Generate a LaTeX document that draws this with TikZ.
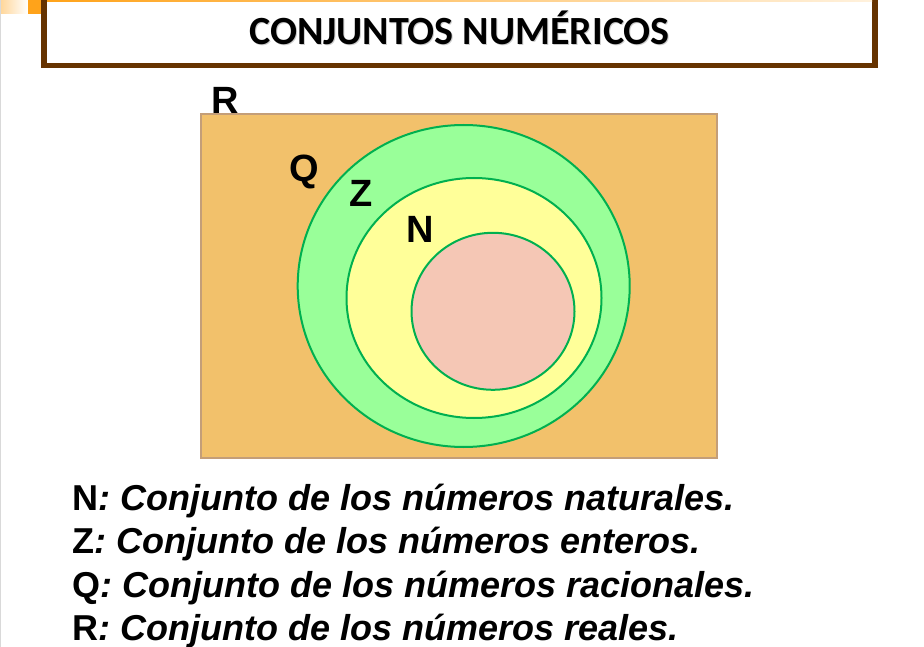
\documentclass[tikz,border=0pt]{standalone}
\usepackage{fontspec}
\setmainfont{Liberation Sans}
\newfontfamily\titlefont{Carlito}
\usetikzlibrary{shapes.geometric,positioning}
\definecolor{marron}{HTML}{663300}
\definecolor{naranja}{HTML}{FFA31A}
\definecolor{arena}{HTML}{F2C16B}
\definecolor{bordearena}{HTML}{C49E78}
\definecolor{verdeQ}{HTML}{99FF99}
\definecolor{amarilloZ}{HTML}{FFFF99}
\definecolor{rosaN}{HTML}{F5C7B5}
\definecolor{bordeverde}{HTML}{00B050}
\tikzset{
  conjunto/.style={ellipse, draw=bordeverde, line width=2pt, inner sep=0pt, outer sep=0pt},
  letra/.style={anchor=base, inner sep=0pt, font=\fontsize{38}{38}\selectfont\bfseries},
  leyenda/.style={anchor=base west, inner sep=0pt, font=\fontsize{36}{40}\selectfont\bfseries},
  titulo/.style={anchor=base, inner sep=0pt, font=\titlefont\fontsize{40}{40}\selectfont\bfseries},
}

\begin{document}
\begin{tikzpicture}[x=1pt,y=-1pt]
\useasboundingbox (0,0) rectangle (924,647);
\clip (0,0) rectangle (924,647);

% Header
\shade[left color=naranja!45, right color=white] (0,0) rectangle (28,14);
\fill[naranja] (28,0) rectangle (42,14);
\draw[black!15, line width=1pt] (0.5,0) -- (0.5,647);
\draw[marron, line width=5.5pt] (44,-10) rectangle (875,65.5);
\shade[left color=naranja, right color=naranja!15] (47,0) rectangle (872,1.5);
\node[titulo, text=black!20] (sombra) at (460.5,46) {CONJUNTOS NUMÉRICOS};
\node[titulo] (titulo) at (459.5,45) {CONJUNTOS NUMÉRICOS};

% Sets
\node[draw=bordearena, fill=arena, line width=1.5pt, inner sep=0pt, outer sep=0pt,
      minimum width=516pt, minimum height=344pt] (R) at (459,286) {};
\node[conjunto, fill=verdeQ, minimum width=332pt, minimum height=322pt] (Q) at (463.7,286) {};
\node[conjunto, fill=amarilloZ, minimum width=255pt, minimum height=240pt] (Z) at (474,298) {};
\node[conjunto, fill=rosaN, minimum width=163pt, minimum height=157pt] (N) at (493,311.3) {};

% Labels
\node[letra] (etR) at (225,113.5) {R};
\node[letra] (etQ) at (304,181.5) {Q};
\node[letra] (etZ) at (361,206.5) {Z};
\node[letra] (etN) at (420.5,243) {N};

% Legend
\node[leyenda] (leyN) at (72,510) {N\textit{: Conjunto de los números naturales.}};
\node[leyenda] (leyZ) at (72,553) {Z\textit{: Conjunto de los números enteros.}};
\node[leyenda] (leyQ) at (72,597) {Q\textit{: Conjunto de los números racionales.}};
\node[leyenda] (leyR) at (72,640) {R\textit{: Conjunto de los números reales.}};

\end{tikzpicture}
\end{document}
